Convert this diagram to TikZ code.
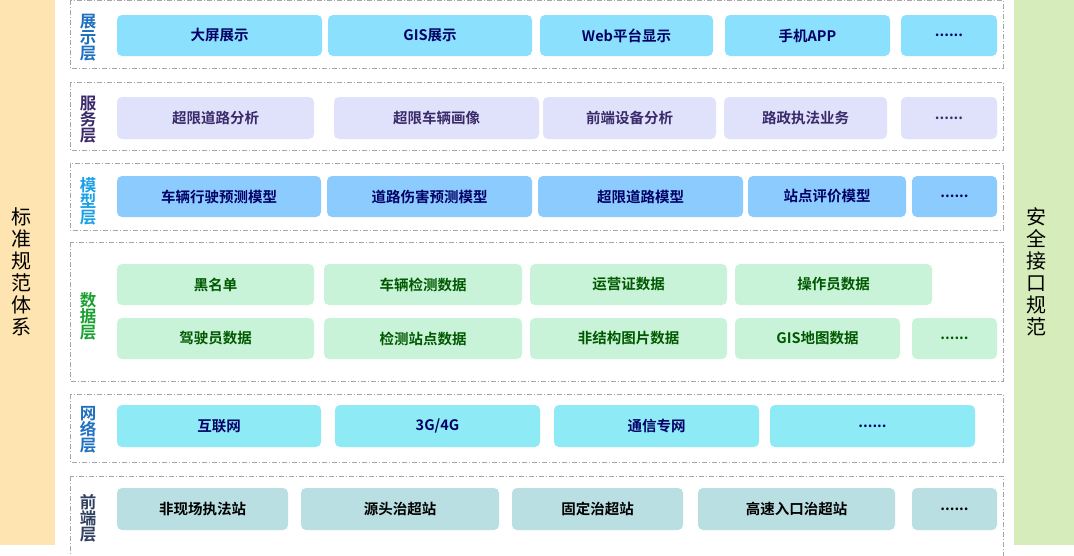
\documentclass[tikz,border=0pt]{standalone}
\usepackage{fontspec}
\setmainfont{Noto Sans CJK SC}
\newfontfamily\cjkb{Noto Sans CJK SC Bold}
\begin{document}
\begin{tikzpicture}[x=1pt,y=-1pt,
  frame/.style={draw=gray!70,line width=0.9pt,dash pattern=on 5pt off 2pt on 1pt off 2pt},
  bx/.style={rounded corners=5pt,inner sep=0pt,font=\cjkb\fontsize{14.5}{14.5}\selectfont,text=blue!40!black},
  lay/.style={font=\cjkb\fontsize{16.5}{16}\selectfont,align=center},
  side/.style={font=\fontsize{20}{22}\selectfont,align=center,text=black}]
\definecolor{c1}{HTML}{8AE0FD}\definecolor{c2}{HTML}{E0E2FB}\definecolor{c3}{HTML}{8BCBFD}
\definecolor{c4}{HTML}{C9F3D8}\definecolor{c5}{HTML}{8EEAF5}\definecolor{c6}{HTML}{B9DFE2}
\useasboundingbox (0,0) rectangle (1074,555);
\fill[white] (0,0) rectangle (1074,555);
\fill[fill={rgb,255:red,254;green,228;blue,176}] (0,0) rectangle (55,545);
\fill[fill={rgb,255:red,214;green,236;blue,186}] (1014,0) rectangle (1074,545);
\node[side] (L) at (22,272) {标\\准\\规\\范\\体\\系};
\node[side] (R) at (1036,272) {安\\全\\接\\口\\规\\范};
% frames
\draw[frame] (70,0) rectangle (1003,68);
\draw[frame] (70,82) rectangle (1003,150);
\draw[frame] (70,163) rectangle (1003,230);
\draw[frame] (70,242) rectangle (1003,381);
\draw[frame] (70,394) rectangle (1003,462);
\draw[frame] (70,476) rectangle (1003,560);
\node[lay,text={rgb,255:red,31;green,111;blue,192}] (l1) at (88,38) {展\\示\\层};
\node[lay,text={rgb,255:red,58;green,42;blue,106}] (l2) at (88,120) {服\\务\\层};
\node[lay,text={rgb,255:red,26;green,160;blue,230}] (l3) at (88,201) {模\\型\\层};
\node[lay,text={rgb,255:red,26;green,160;blue,48}] (l4) at (88,316) {数\\据\\层};
\node[lay,text={rgb,255:red,32;green,112;blue,192}] (l5) at (88,430) {网\\络\\层};
\node[lay,text={rgb,255:red,48;green,64;blue,96}] (l6) at (88,518) {前\\端\\层};
\newcommand{\bbox}[6]{\node[bx,fill=#1,minimum width={#3-#2},minimum height={#5-#4},#6] at ({(#2+#3)/2},{(#4+#5)/2})}
\bbox{c1}{117}{322}{15}{56}{}(a1){大屏展示};
\bbox{c1}{328}{532}{15}{56}{}(a2){GIS展示};
\bbox{c1}{540}{713}{15}{56}{}(a3){Web平台显示};
\bbox{c1}{725}{890}{15}{56}{}(a4){手机APP};
\bbox{c1}{901}{997}{15}{56}{}(a5){......};
\bbox{c2}{117}{314}{97}{139}{text={rgb,255:red,58;green,42;blue,106}}(b1){超限道路分析};
\bbox{c2}{334}{539}{97}{139}{text={rgb,255:red,58;green,42;blue,106}}(b2){超限车辆画像};
\bbox{c2}{543}{716}{97}{139}{text={rgb,255:red,58;green,42;blue,106}}(b3){前端设备分析};
\bbox{c2}{724}{887}{97}{139}{text={rgb,255:red,58;green,42;blue,106}}(b4){路政执法业务};
\bbox{c2}{901}{997}{97}{139}{text={rgb,255:red,58;green,42;blue,106}}(b5){......};
\bbox{c3}{117}{321}{176}{217}{}(m1){车辆行驶预测模型};
\bbox{c3}{327}{532}{176}{217}{}(m2){道路伤害预测模型};
\bbox{c3}{538}{743}{176}{217}{}(m3){超限道路模型};
\bbox{c3}{748}{906}{176}{217}{}(m4){站点评价模型};
\bbox{c3}{912}{997}{176}{217}{}(m5){......};
\bbox{c4}{117}{314}{264}{305}{text=green!35!black}(d1){黑名单};
\bbox{c4}{324}{522}{264}{305}{text=green!35!black}(d2){车辆检测数据};
\bbox{c4}{530}{727}{264}{305}{text=green!35!black}(d3){运营证数据};
\bbox{c4}{735}{932}{264}{305}{text=green!35!black}(d4){操作员数据};
\bbox{c4}{117}{314}{318}{359}{text=green!35!black}(e1){驾驶员数据};
\bbox{c4}{324}{522}{318}{359}{text=green!35!black}(e2){检测站点数据};
\bbox{c4}{530}{727}{318}{359}{text=green!35!black}(e3){非结构图片数据};
\bbox{c4}{735}{900}{318}{359}{text=green!35!black}(e4){GIS地图数据};
\bbox{c4}{912}{997}{318}{359}{text=green!35!black}(e5){......};
\bbox{c5}{117}{321}{405}{447}{}(n1){互联网};
\bbox{c5}{335}{540}{405}{447}{}(n2){3G/4G};
\bbox{c5}{554}{759}{405}{447}{}(n3){通信专网};
\bbox{c5}{770}{975}{405}{447}{}(n4){......};
\bbox{c6}{117}{288}{488}{530}{text=black}(f1){非现场执法站};
\bbox{c6}{301}{499}{488}{530}{text=black}(f2){源头治超站};
\bbox{c6}{512}{683}{488}{530}{text=black}(f3){固定治超站};
\bbox{c6}{698}{895}{488}{530}{text=black}(f4){高速入口治超站};
\bbox{c6}{912}{997}{488}{530}{text=black}(f5){......};
\end{tikzpicture}
\end{document}
